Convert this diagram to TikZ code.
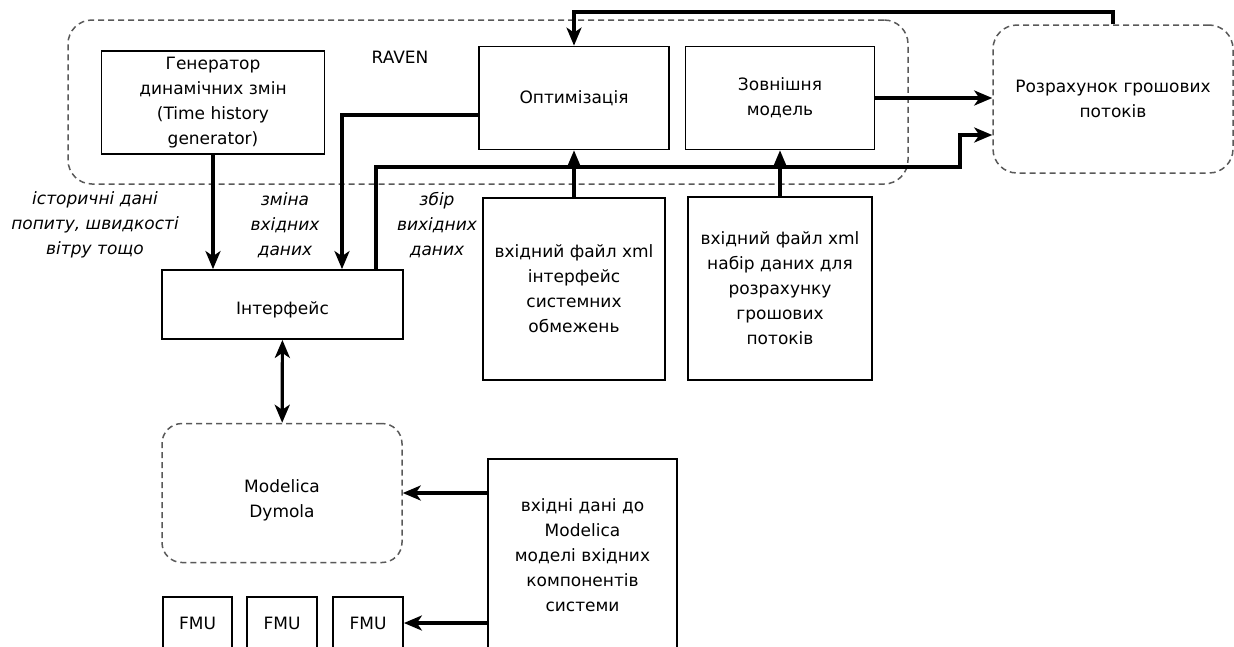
\documentclass[tikz,border=0pt]{standalone}
\usepackage{fontspec}
\setmainfont{DejaVu Sans}
\usetikzlibrary{arrows.meta}

\newcommand\diagfont{\fontsize{17}{25}\selectfont}

\tikzset{
  blk/.style={draw, line width=1.8pt, inner sep=0pt, align=center},
  grp/.style={draw=black!65, dash pattern=on 6pt off 4pt, line width=1.5pt, rounded corners=24pt, inner sep=0pt, align=center},
  flow/.style={line width=3.2pt, -{Stealth[length=18pt,width=15pt,inset=5pt]}},
  duplex/.style={line width=3.2pt, {Stealth[length=18pt,width=15pt,inset=5pt]}-{Stealth[length=18pt,width=15pt,inset=5pt]}},
  lbl/.style={font=\diagfont\itshape, align=center}
}

\begin{document}
\begin{tikzpicture}[x=1pt, y=-1pt, font=\diagfont]
	\clip (0,0) rectangle (1234,646);
	\node[grp, minimum width=840pt, minimum height=164pt] (raven) at (488,102) {};
	\node (ravenlbl) at (400,57) {RAVEN};
	\node[blk, minimum width=223pt, minimum height=103pt] (gen) at (213,102.5) {Генератор\\динамічних змін\\(Time history\\generator)};
	\node[blk, minimum width=190pt, minimum height=103pt] (opt) at (574,98) {Оптимізація};
	\node[blk, minimum width=189pt, minimum height=103pt] (ext) at (780,98) {Зовнішня\\модель};
	\node[grp, minimum width=240pt, minimum height=148pt] (cash) at (1113,99) {Розрахунок грошових\\потоків};
	\node[blk, minimum width=182pt, minimum height=182pt] (xmla) at (574,289) {вхідний файл xml\\інтерфейс\\системних\\обмежень};
	\node[blk, minimum width=184pt, minimum height=183pt] (xmlb) at (780,288.5) {вхідний файл xml\\набір даних для\\розрахунку\\грошових\\потоків};
	\node[blk, minimum width=241pt, minimum height=69pt, label={[yshift=-5pt]center:Інтерфейс}] (iface) at (282.5,304.5) {};
	\node[grp, rounded corners=20pt, minimum width=240pt, minimum height=139pt, label={[align=center, yshift=-7pt]center:Modelica\\Dymola}] (modelica) at (282,493) {};
	\node[blk, minimum width=189pt, minimum height=192pt] (inmod) at (582.5,555) {вхідні дані до\\Modelica\\моделі вхідних\\компонентів\\системи};
	\node[blk, minimum width=69pt, minimum height=52pt] (fmua) at (197.5,623) {FMU};
	\node[blk, minimum width=70pt, minimum height=52pt] (fmub) at (282,623) {FMU};
	\node[blk, minimum width=70pt, minimum height=52pt] (fmuc) at (368,623) {FMU};
	\node[lbl] (hist) at (95,225) {історичні дані\\попиту, швидкості\\вітру тощо};
	\node[lbl] (chg) at (285,225) {зміна\\вхідних\\даних};
	\node[lbl] (col) at (437,225) {збір\\вихідних\\даних};
	\coordinate (loop) at (574,12);
	\coordinate (bend) at (960,167);
	\draw[flow] (gen.south) -- (gen.south |- iface.north);
	\draw[flow] ([yshift=-17pt]opt.west) -| ([xshift=59.5pt]iface.north);
	\draw[flow] ([xshift=93.5pt]iface.north) |- (bend) |- ([yshift=-36pt]cash.west);
	\draw[flow] (xmla) -- (opt);
	\draw[flow] (xmlb) -- (ext);
	\draw[flow] (ext.east) -- (ext.east -| cash.west);
	\draw[flow] (cash.north) |- (loop) -- (opt.north);
	\draw[duplex] (iface) -- (modelica);
	\draw[flow] (modelica.east -| inmod.west) -- (modelica.east);
	\draw[flow] (fmuc.east -| inmod.west) -- (fmuc.east);
\end{tikzpicture}
\end{document}
